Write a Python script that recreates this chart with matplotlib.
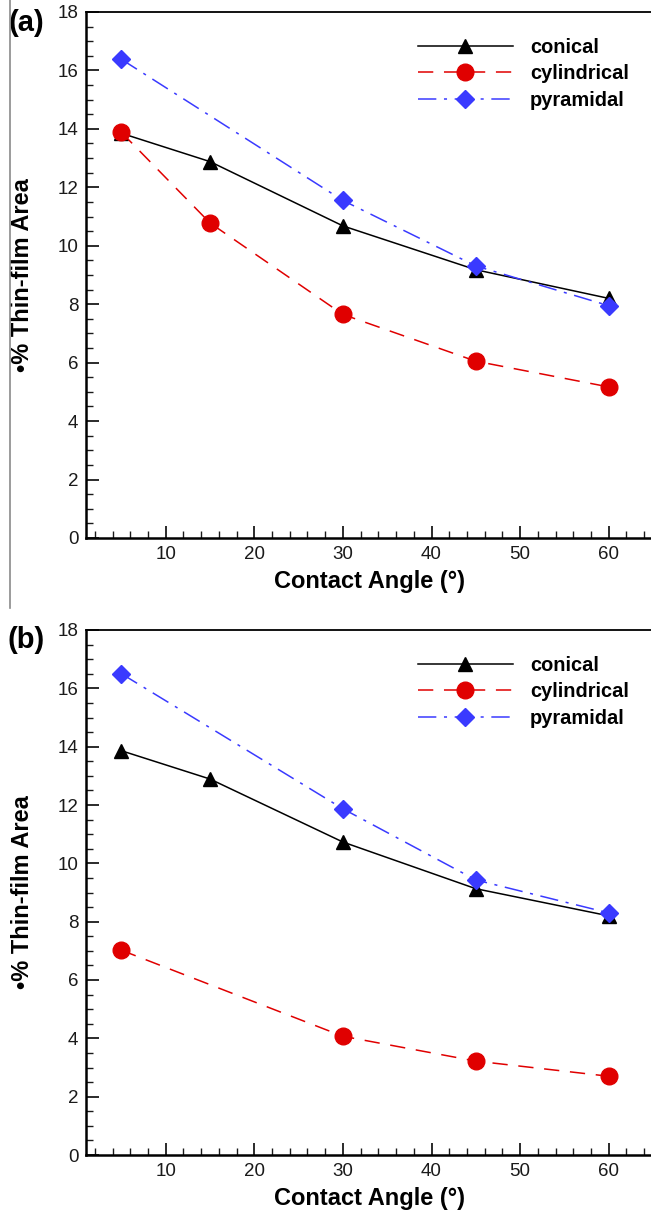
"""Thin-film area versus contact angle for three pillar geometries."""

import matplotlib

matplotlib.use("Agg")

import matplotlib.pyplot as plt
from matplotlib.lines import Line2D
from matplotlib.ticker import MultipleLocator

plt.rcParams["font.family"] = ["Liberation Sans", "DejaVu Sans"]

BLACK = "#000000"
RED = "#e00000"
BLUE = "#3a3aff"
TEXT = "#1a1a1a"

angles = [5, 15, 30, 45, 60]
angles_sparse = [5, 30, 45, 60]

# panel (a)
a_conical = [13.85, 12.88, 10.68, 9.18, 8.20]
a_cylindrical = [13.88, 10.78, 7.65, 6.05, 5.17]
a_pyramidal = [16.38, 11.55, 9.31, 7.95]

# panel (b)
b_conical = [13.86, 12.89, 10.73, 9.13, 8.20]
b_cylindrical = [7.02, 4.07, 3.22, 2.70]
b_pyramidal = [16.50, 11.87, 9.43, 8.30]

W, H = 651, 1216


def draw_panel(ax, conical, cyl_x, cylindrical, pyr_x, pyramidal, tag):
    ax.plot(angles, conical, color=BLACK, lw=1.1, marker="^", ms=10,
            label="conical", zorder=3)
    ax.plot(cyl_x, cylindrical, color=RED, lw=1.1, dashes=(10, 7),
            marker="o", ms=12, markeredgecolor=RED, label="cylindrical", zorder=4)
    ax.plot(pyr_x, pyramidal, color=BLUE, lw=1.1, dashes=(12, 5, 2, 5),
            marker="D", ms=9, markeredgecolor=BLUE, label="pyramidal", zorder=5)

    ax.set_xlim(1, 65)
    ax.set_ylim(0, 18)
    ax.xaxis.set_major_locator(MultipleLocator(10))
    ax.xaxis.set_minor_locator(MultipleLocator(2))
    ax.yaxis.set_major_locator(MultipleLocator(2))
    ax.yaxis.set_minor_locator(MultipleLocator(0.5))
    ax.tick_params(which="both", direction="in", colors=TEXT, labelsize=13.5,
                   width=1.3, pad=5.5)
    ax.tick_params(which="major", length=9)
    ax.tick_params(which="minor", length=5, width=1.0)
    ax.set_xticks([10, 20, 30, 40, 50, 60])

    ax.spines["right"].set_visible(False)
    ax.spines["left"].set_linewidth(1.8)
    ax.spines["bottom"].set_linewidth(1.8)
    ax.spines["top"].set_linewidth(1.3)

    ax.set_xlabel("Contact Angle (°)", fontsize=17, fontweight="bold",
                  color=BLACK, labelpad=5)
    ax.set_ylabel("•% Thin-film Area", fontsize=17, fontweight="bold",
                  color=BLACK)
    ax.yaxis.set_label_coords(-0.092, 0.5)

    ax.legend(loc="upper left", bbox_to_anchor=(0.5855, 0.951), frameon=False,
              borderpad=0, borderaxespad=0, numpoints=1, handlelength=4.75,
              handletextpad=0.85, labelspacing=0.375,
              prop={"size": 14.4, "weight": "bold"})

    ax.text(-0.106, 0.98, tag, transform=ax.transAxes, fontsize=21,
            fontweight="bold", ha="center", va="center", color=BLACK)


fig = plt.figure(figsize=(W / 100, H / 100), dpi=100, facecolor="white")

left = 86 / W
width = 567 / W
ax_a = fig.add_axes([left, 1 - 538 / H, width, 526 / H])
ax_b = fig.add_axes([left, 1 - 1155 / H, width, 525 / H])

draw_panel(ax_a, a_conical, angles, a_cylindrical, angles_sparse, a_pyramidal, "(a)")
draw_panel(ax_b, b_conical, angles_sparse, b_cylindrical, angles_sparse,
           b_pyramidal, "(b)")

# thin grey rule down the left side of the upper panel
fig.add_artist(Line2D([10 / W, 10 / W], [1.0, 1 - 608 / H],
                      transform=fig.transFigure, color="#8a8a8a", lw=1.2))

fig.savefig("out.png", dpi=100, facecolor="white")
